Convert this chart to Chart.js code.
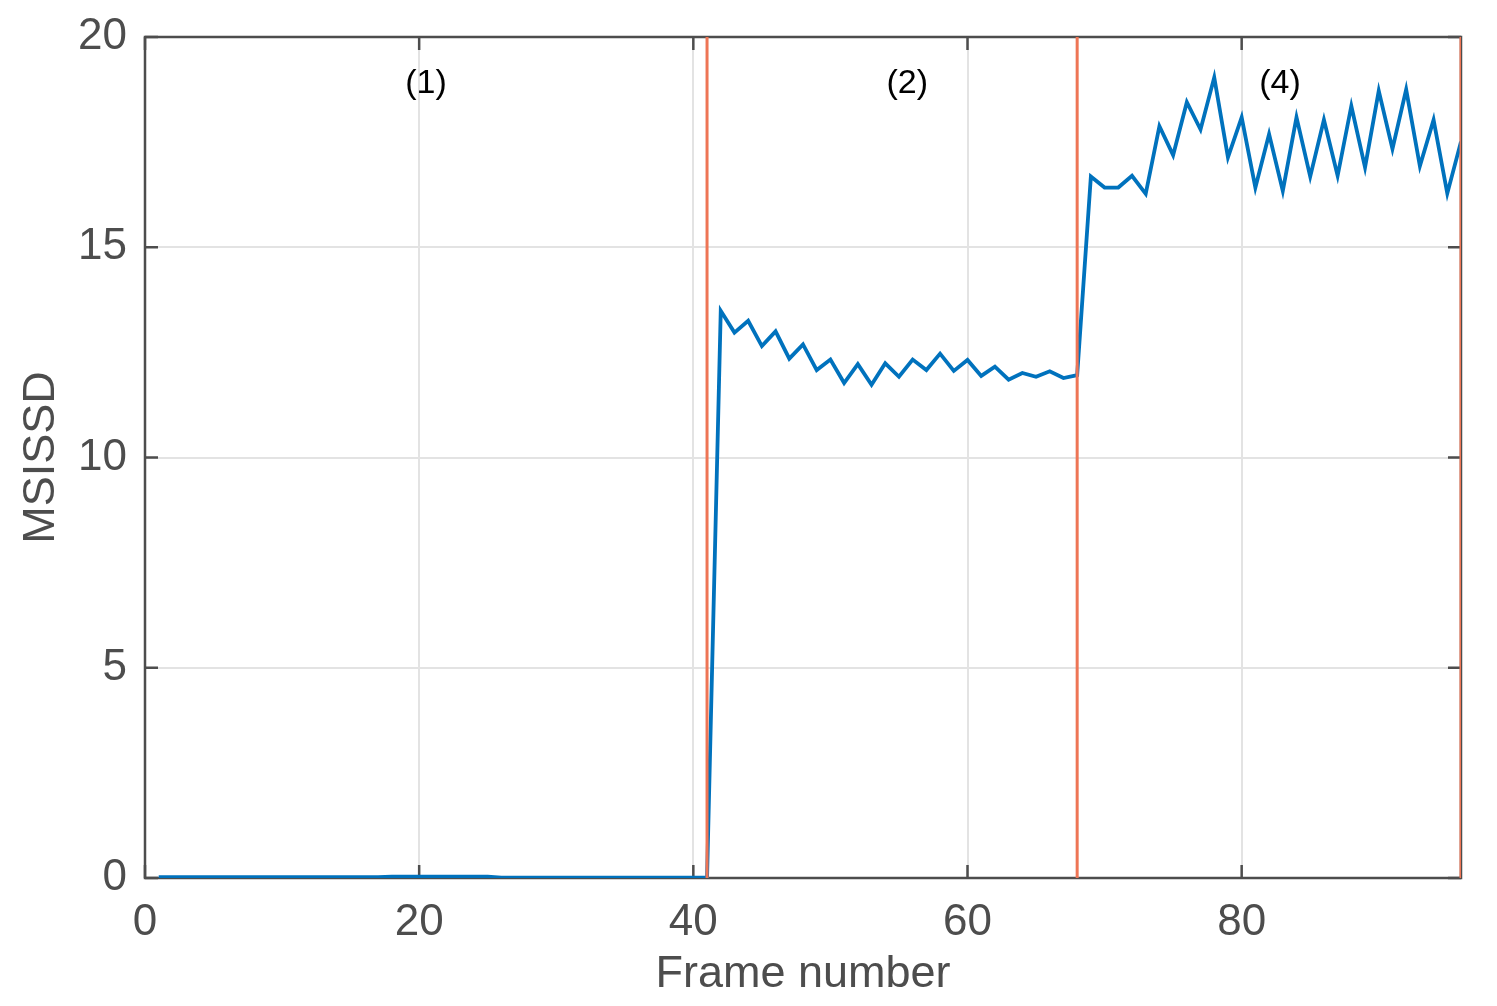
<!DOCTYPE html>
<html><head><meta charset="utf-8">
<script src="https://cdn.jsdelivr.net/npm/chart.js@4.4.0/dist/chart.umd.min.js"></script>
<style>html,body{margin:0;padding:0;background:#fff;}#wrap{width:1497px;height:1006px;}</style>
</head><body><div id="wrap"><canvas id="c" width="1497" height="1006"></canvas></div>
<script>
const frameNumbers = [1,2,3,4,5,6,7,8,9,10,11,12,13,14,15,16,17,18,19,20,21,22,23,24,25,26,27,28,29,30,31,32,33,34,35,36,37,38,39,40,41,42,43,44,45,46,47,48,49,50,51,52,53,54,55,56,57,58,59,60,61,62,63,64,65,66,67,68,69,70,71,72,73,74,75,76,77,78,79,80,81,82,83,84,85,86,87,88,89,90,91,92,93,94,95,96];
const msissd = [
  0.02,0.02,0.02,0.02,0.02,0.02,0.02,0.02,0.02,0.02,0.02,0.02,0.02,0.02,0.02,0.02,0.02,
  0.03,0.03,0.03,0.03,0.03,0.03,0.03,0.03,
  0.01,0.01,0.01,0.01,0.01,0.01,0.01,0.01,0.01,0.01,0.01,0.01,0.01,0.01,0.01,0.01,
  13.49,12.97,13.25,12.65,13.0,12.35,12.69,12.08,12.33,11.77,12.22,11.73,12.24,11.92,12.33,12.08,12.47,12.06,12.32,11.94,12.16,11.85,12.01,11.92,12.05,11.89,11.96,
  16.68,16.42,16.42,16.70,16.27,17.88,17.19,18.45,17.80,19.04,17.14,18.09,16.42,17.69,16.34,18.09,16.68,18.03,16.70,18.36,16.90,18.72,17.34,18.75,16.93,18.03,16.28,17.51
];
const boundaryFrames = [41, 68, 96];
const segmentLabels = ['(1)', '(2)', '(4)'];
const segmentLabelX = [20.5, 55.6, 82.8];
const segmentLabelY = [18.9, 18.9, 18.9];
const xTicks = [0, 20, 40, 60, 80];
const yTicks = [0, 5, 10, 15, 20];
const xLabel = 'Frame number';
const yLabel = 'MSISSD';

const FONT = "'Liberation Sans', Arial, Helvetica, sans-serif";
const AXIS_COLOR = '#4d4d4d';

const datasets = [{
  label: 'MSISSD',
  data: frameNumbers.map((f, i) => ({x: f, y: msissd[i]})),
  borderColor: '#0072BD', borderWidth: 3.8, pointRadius: 0, tension: 0, fill: false, order: 2
}];
boundaryFrames.forEach(b => datasets.push({
  label: 'boundary ' + b,
  data: [{x: b, y: yTicks[0]}, {x: b, y: yTicks[yTicks.length - 1]}],
  borderColor: '#EE7555', borderWidth: 3, pointRadius: 0, fill: false, order: 1
}));

const boxPlugin = {
  id: 'box',
  beforeDatasetsDraw(chart) {
    const {ctx, chartArea: a, scales: {x, y}} = chart;
    ctx.save();
    ctx.strokeStyle = AXIS_COLOR;
    ctx.lineWidth = 2.5;
    ctx.strokeRect(a.left, a.top, a.right - a.left, a.bottom - a.top);
    const L = 13;
    ctx.beginPath();
    xTicks.forEach(v => {
      const px = x.getPixelForValue(v);
      ctx.moveTo(px, a.bottom); ctx.lineTo(px, a.bottom - L);
      ctx.moveTo(px, a.top); ctx.lineTo(px, a.top + L);
    });
    yTicks.forEach(v => {
      const py = y.getPixelForValue(v);
      ctx.moveTo(a.left, py); ctx.lineTo(a.left + L, py);
      ctx.moveTo(a.right, py); ctx.lineTo(a.right - L, py);
    });
    ctx.stroke();
    ctx.restore();
  },
  afterDatasetsDraw(chart) {
    const {ctx, scales: {x, y}} = chart;
    ctx.save();
    ctx.fillStyle = '#000';
    ctx.font = '34px ' + FONT;
    ctx.textAlign = 'center';
    ctx.textBaseline = 'middle';
    segmentLabels.forEach((t, i) => {
      ctx.fillText(t, x.getPixelForValue(segmentLabelX[i]), y.getPixelForValue(segmentLabelY[i]));
    });
    ctx.restore();
  }
};

new Chart(document.getElementById('c'), {
  type: 'line',
  data: {datasets},
  options: {
    responsive: false, animation: false, devicePixelRatio: 1,
    layout: {padding: {top: 37, right: 36, left: 0, bottom: 0}},
    plugins: {legend: {display: false}, tooltip: {enabled: false}},
    scales: {
      x: {
        type: 'linear', min: 0, max: 96,
        afterBuildTicks: s => { s.ticks = xTicks.map(v => ({value: v})); },
        afterFit: s => { s.height = 128; s.paddingLeft = 0; s.paddingRight = 0; },
        grid: {color: '#e3e3e3', lineWidth: 2, drawTicks: false},
        border: {display: false},
        ticks: {font: {family: FONT, size: 44}, color: AXIS_COLOR, padding: 18, maxRotation: 0},
        title: {display: true, text: xLabel, font: {family: FONT, size: 45, lineHeight: 1.2}, color: AXIS_COLOR, padding: {top: 0, bottom: 4}}
      },
      y: {
        type: 'linear', min: 0, max: 20,
        afterBuildTicks: s => { s.ticks = yTicks.map(v => ({value: v})); },
        afterFit: s => { s.width = 145; s.paddingTop = 0; s.paddingBottom = 0; },
        grid: {color: '#e3e3e3', lineWidth: 2, drawTicks: false},
        border: {display: false},
        ticks: {font: {family: FONT, size: 44}, color: AXIS_COLOR, padding: 18},
        title: {display: true, text: yLabel, font: {family: FONT, size: 45, lineHeight: 1.2}, color: AXIS_COLOR, padding: {top: 15, bottom: 0}}
      }
    }
  },
  plugins: [boxPlugin]
});
</script></body></html>
